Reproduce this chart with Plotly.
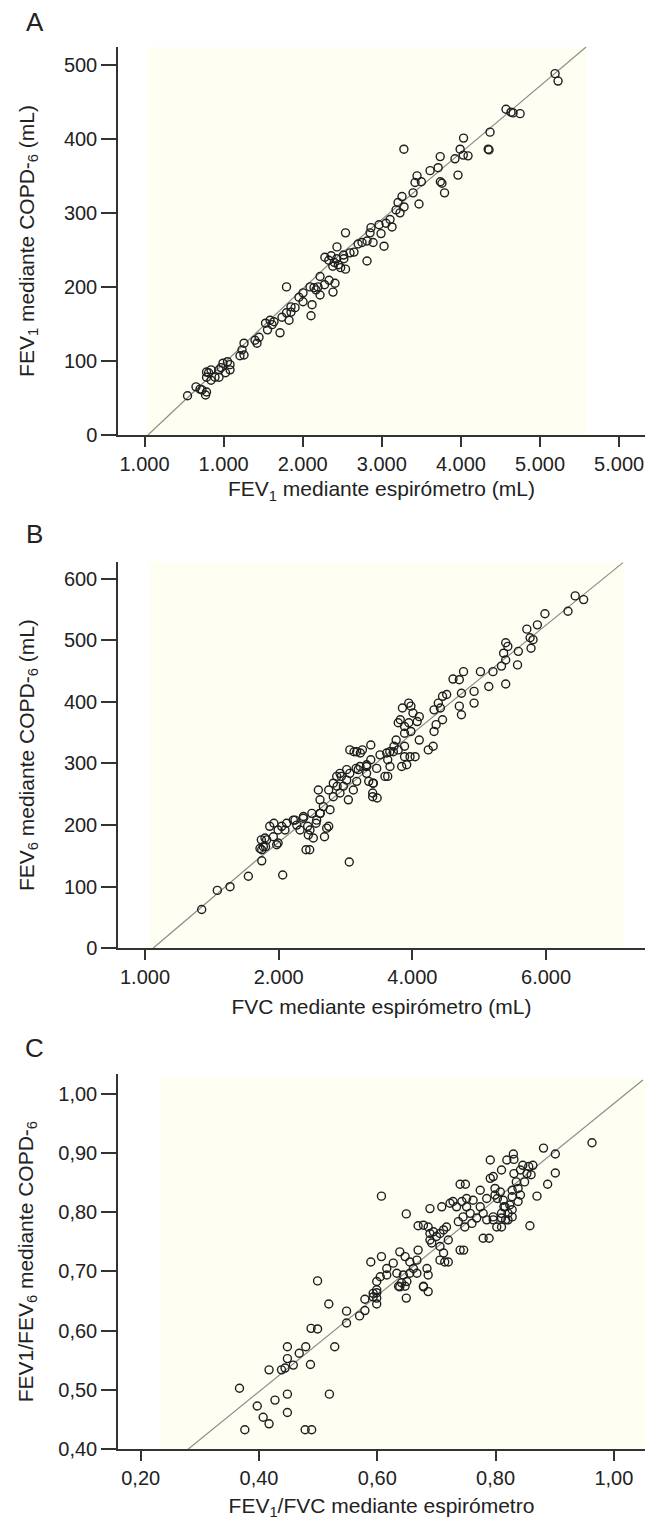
import plotly.graph_objects as go

# ---- panel A: FEV1 (COPD-6 vs espirometro)
a_x = [5190, 5228, 4570, 4633, 4659, 4748, 4368, 4355, 4345, 4033, 3990, 4090, 3925, 3963,
       3738, 3712, 3760, 3740, 3793, 3610, 3445, 3500, 3279, 3420, 3395, 3470, 3255, 3205,
       3281, 3180, 3230, 3104, 3053, 3129, 2965, 2863, 2851, 2541, 2990, 2750, 2700, 2890,
       2813, 3028, 2813, 2433, 2515, 2598, 2648, 2280, 2330, 2400, 2450, 2380, 2480, 2520,
       2360, 2430, 2541, 2219, 2333, 2276, 2383, 2408, 2092, 2143, 2193, 2168, 2219, 2004,
       1795, 1953, 2004, 2118, 2105, 1852, 1903, 1795, 1852, 1738, 1827, 1713, 1587, 1530,
       1612, 1555, 1637, 1448, 1397, 1422, 1258, 1233, 1258, 1207, 1049, 992, 1081, 942,
       1024, 1081, 841, 891, 784, 942, 841, 967, 784, 810, 727, 784, 702, 772, 544, 651, 4030]
a_y = [488, 478, 440, 436, 435, 434, 409, 385, 386, 401, 386, 377, 373, 351,
       376, 361, 340, 342, 327, 357, 350, 342, 386, 341, 327, 312, 322, 314,
       308, 304, 300, 291, 286, 281, 284, 280, 273, 273, 272, 260, 258, 260,
       262, 255, 235, 254, 243, 246, 247, 240, 236, 233, 230, 228, 226, 238,
       242, 238, 224, 214, 209, 203, 193, 205, 200, 199, 200, 196, 189, 192,
       200, 186, 180, 176, 161, 173, 172, 165, 166, 159, 155, 138, 155, 151,
       149, 142, 153, 132, 128, 124, 124, 115, 108, 107, 99, 97, 95, 88,
       84, 88, 88, 78, 78, 78, 74, 91, 85, 84, 61, 58, 62, 54, 53, 65, 378]
a_fit_x = [44, 2345, 5582]
a_fit_y = [0, 232, 524]
a_ticks = [0, 1000, 2000, 3000, 4000, 5000, 6000]
a_ticktext = ["1.000", "1.000", "2.000", "3.000", "4.000", "5.000", "5.000"]
a_yticks = [0, 100, 200, 300, 400, 500]

# ---- panel B: FEV6 vs FVC
b_x = [848, 1082, 1272, 1546, 1746, 2060, 3056, 2409, 1746, 1720, 1770, 1820, 1795, 1970,
       1920, 2045, 2094, 2219, 2319, 2270, 2368, 2468, 2518, 2443, 2718, 2568, 2618, 2668,
       2768, 2593, 2618, 2817, 2917, 2817, 2967, 3017, 3117, 3167, 3042, 2868, 2917, 3017,
       3216, 3316, 3416, 3406, 3406, 3590, 3466, 3516, 3616, 3715, 3665, 3840, 3965, 4238,
       3167, 6562, 6436, 6328, 5983, 5712, 5870, 5761, 5805, 5775, 5585, 5573, 5396, 5428,
       5365, 5396, 5333, 5206, 5018, 5396, 5143, 4765, 4702, 4608, 4734, 4923, 4923, 4702,
       4734, 4451, 4513, 4388, 4419, 4324, 4451, 4355, 4324, 4311, 3946, 3978, 3851, 4009,
       4103, 4072, 3946, 3883, 3978, 4103, 3883, 3819, 3788, 3883, 3757, 3725, 3662, 3788,
       3631, 3883, 3915, 4041, 3631, 3378, 3252, 3064, 3315, 3158, 3410, 3473, 3347, 1866,
       1928, 1991, 2118, 2244, 2370, 2496, 2433, 2559, 2622, 2748, 2685, 1740, 1803, 1991,
       2464, 2748, 2874, 2937, 3064, 3189, 3315, 3378, 3221, 3127]
b_y = [63, 94, 100, 117, 142, 119, 140, 160, 160, 162, 165, 176, 179, 168,
       181, 198, 192, 208, 192, 200, 211, 192, 179, 184, 195, 208, 219, 230,
       225, 257, 241, 246, 252, 268, 263, 273, 257, 271, 241, 279, 284, 290,
       295, 298, 268, 252, 246, 279, 292, 314, 317, 319, 295, 295, 311, 322,
       319, 566, 572, 547, 543, 518, 525, 504, 501, 487, 482, 460, 496, 490,
       479, 468, 458, 449, 449, 429, 425, 449, 436, 437, 414, 417, 398, 393,
       379, 409, 412, 398, 390, 387, 371, 363, 352, 328, 398, 393, 390, 382,
       376, 368, 366, 360, 352, 338, 328, 371, 366, 349, 338, 328, 319, 322,
       306, 311, 298, 311, 279, 330, 322, 322, 295, 292, 268, 244, 271, 198,
       203, 192, 203, 208, 214, 219, 198, 203, 219, 198, 181, 176, 165, 171,
       160, 257, 263, 279, 284, 290, 284, 306, 317, 319]
b_fit_x = [120, 1646, 7150]
b_fit_y = [0, 141, 626]
b_ticks = [0, 2000, 4000, 6000]
b_ticktext = ["1.000", "2.000", "4.000", "6.000"]
b_yticks = [0, 100, 200, 300, 400, 500, 600]

# ---- panel C: FEV1/FEV6 vs FEV1/FVC
c_x = [0.376, 0.367, 0.397, 0.407, 0.417, 0.427, 0.448, 0.448, 0.478, 0.489, 0.417, 0.438,
       0.444, 0.458, 0.448, 0.468, 0.479, 0.448, 0.487, 0.528, 0.488, 0.499, 0.519, 0.518,
       0.548, 0.548, 0.570, 0.579, 0.579, 0.599, 0.599, 0.599, 0.593, 0.649, 0.636, 0.647,
       0.641, 0.678, 0.499, 0.599, 0.593, 0.599, 0.607, 0.649, 0.589, 0.607, 0.616, 0.627,
       0.638, 0.647, 0.655, 0.667, 0.661, 0.633, 0.644, 0.655, 0.667, 0.605, 0.616, 0.650,
       0.638, 0.684, 0.686, 0.669, 0.678, 0.686, 0.669, 0.678, 0.686, 0.689, 0.695, 0.689,
       0.692, 0.706, 0.712, 0.717, 0.706, 0.712, 0.714, 0.720, 0.706, 0.740, 0.700, 0.720,
       0.689, 0.709, 0.723, 0.728, 0.734, 0.743, 0.751, 0.757, 0.745, 0.737, 0.748, 0.740,
       0.751, 0.762, 0.774, 0.779, 0.785, 0.768, 0.760, 0.779, 0.796, 0.802, 0.810, 0.791,
       0.791, 0.799, 0.799, 0.808, 0.813, 0.816, 0.819, 0.810, 0.821, 0.821, 0.963, 0.901,
       0.881, 0.863, 0.901, 0.888, 0.870, 0.858, 0.830, 0.831, 0.846, 0.856, 0.853, 0.842,
       0.831, 0.860, 0.849, 0.835, 0.838, 0.828, 0.842, 0.828, 0.838, 0.824, 0.814, 0.796,
       0.803, 0.810, 0.796, 0.810, 0.789, 0.828, 0.817, 0.828, 0.749, 0.746, 0.785, 0.774,
       0.247]
c_y = [0.433, 0.503, 0.473, 0.454, 0.443, 0.483, 0.493, 0.462, 0.433, 0.433, 0.534, 0.534,
       0.537, 0.542, 0.553, 0.562, 0.573, 0.573, 0.543, 0.573, 0.604, 0.603, 0.493, 0.645,
       0.613, 0.633, 0.625, 0.634, 0.653, 0.664, 0.645, 0.655, 0.657, 0.655, 0.675, 0.675,
       0.681, 0.675, 0.684, 0.683, 0.663, 0.669, 0.827, 0.797, 0.716, 0.725, 0.705, 0.714,
       0.733, 0.725, 0.716, 0.719, 0.705, 0.697, 0.694, 0.697, 0.697, 0.691, 0.694, 0.683,
       0.674, 0.705, 0.694, 0.736, 0.674, 0.666, 0.777, 0.778, 0.775, 0.764, 0.767, 0.753,
       0.748, 0.764, 0.770, 0.775, 0.742, 0.731, 0.716, 0.716, 0.719, 0.736, 0.759, 0.753,
       0.806, 0.809, 0.815, 0.818, 0.809, 0.818, 0.809, 0.798, 0.792, 0.784, 0.775, 0.847,
       0.823, 0.820, 0.809, 0.798, 0.787, 0.790, 0.781, 0.756, 0.787, 0.775, 0.790, 0.888,
       0.857, 0.840, 0.829, 0.834, 0.820, 0.809, 0.888, 0.871, 0.798, 0.787, 0.917, 0.898,
       0.908, 0.879, 0.866, 0.847, 0.827, 0.777, 0.898, 0.889, 0.879, 0.877, 0.865, 0.871,
       0.865, 0.863, 0.851, 0.851, 0.840, 0.837, 0.829, 0.826, 0.818, 0.812, 0.809, 0.860,
       0.823, 0.798, 0.792, 0.775, 0.756, 0.792, 0.787, 0.804, 0.847, 0.736, 0.823, 0.837,
       0.392]
c_fit_x = [0.275, 1.049]
c_fit_y = [0.396, 1.023]
c_ticks = [0.2, 0.4, 0.6, 0.8, 1.0]
c_ticktext = ["0,20", "0,40", "0,60", "0,80", "1,00"]
c_yticks = [0.4, 0.5, 0.6, 0.7, 0.8, 0.9, 1.0]
c_yticktext = ["0,40", "0,50", "0,60", "0,70", "0,80", "0,90", "1,00"]

FONT = "Liberation Sans, Arial, sans-serif"
INK = "#222222"
CREAM = "#fefef2"

# the page body adds an 8px margin, so the figure is drawn 8px smaller
OFF = 8
W, H = 654 - OFF, 1520 - OFF

def fx(px):
    return (px - OFF) / W

def fy(py):
    return 1 - (py - OFF) / H

fig = go.Figure()

panels = [
    ("", a_x, a_y, a_fit_x, a_fit_y),
    ("2", b_x, b_y, b_fit_x, b_fit_y),
    ("3", c_x, c_y, c_fit_x, c_fit_y),
]
for sfx, xs, ys, lx, ly in panels:
    fig.add_trace(go.Scatter(x=lx, y=ly, mode="lines", xaxis="x" + sfx, yaxis="y" + sfx,
                             line=dict(color="#8c8c8c", width=1.2), showlegend=False,
                             hoverinfo="skip"))
    fig.add_trace(go.Scatter(x=xs, y=ys, mode="markers", xaxis="x" + sfx, yaxis="y" + sfx,
                             marker=dict(symbol="circle-open", size=8, color="#1e1e1e",
                                         line=dict(width=1.4)),
                             cliponaxis=(sfx != "3"), showlegend=False))

xdom = [fx(118), fx(645)]
ydoms = [[fy(435), fy(47)],
         [fy(948.3), fy(562)],
         [fy(1449.3), fy(1074)]]

def axis(anchor, dom, rng, tv, tt, title, standoff, ticklen):
    return dict(domain=dom, anchor=anchor, range=rng, tickvals=tv, ticktext=tt,
                showline=True, linecolor="#333", linewidth=1.5, ticks="outside",
                ticklen=ticklen, tickwidth=1.5, tickcolor="#333", showgrid=False,
                zeroline=False, automargin=False, tickfont=dict(size=20, color=INK),
                title=dict(text=title, font=dict(size=21, color=INK), standoff=standoff))

fig.update_layout(
    width=W, height=H,
    margin=dict(l=0, r=0, t=0, b=0),
    paper_bgcolor="white", plot_bgcolor="white",
    font=dict(family=FONT, color=INK),
    xaxis=axis("y", xdom, [-335, 6327], a_ticks, a_ticktext,
               "FEV<sub>1</sub> mediante espirómetro (mL)", 8, 10),
    yaxis=axis("x", ydoms[0], [0, 524], a_yticks, [str(v) for v in a_yticks],
               "FEV<sub>1</sub> mediante COPD-<sub>6</sub> (mL)", 24, 15),
    xaxis2=axis("y2", xdom, [-404, 7480], b_ticks, b_ticktext,
                "FVC mediante espirómetro (mL)", 12, 10),
    yaxis2=axis("x2", ydoms[1], [0, 627], b_yticks, [str(v) for v in b_yticks],
                "FEV<sub>6</sub> mediante COPD-<sub>6</sub> (mL)", 24, 15),
    xaxis3=axis("y3", xdom, [0.1616, 1.0526], c_ticks, c_ticktext,
                "FEV<sub>1</sub>/FVC mediante espirómetro", 10, 10),
    yaxis3=axis("x3", ydoms[2], [0.40, 1.033], c_yticks, c_yticktext,
                "FEV1/FEV<sub>6</sub> mediante COPD-<sub>6</sub>", 19, 15),
)

# cream plotting areas
for sfx, x0, x1, y1 in [("", 0.055, 0.888, 1.0), ("2", 0.061, 0.960, 1.0), ("3", 0.080, 1.0, 0.99)]:
    fig.add_shape(type="rect", xref="x" + sfx + " domain", yref="y" + sfx + " domain",
                  x0=x0, x1=x1, y0=0, y1=y1, fillcolor=CREAM, line=dict(width=0),
                  layer="below")

# panel letters
for letter, ypx in [("A", 22), ("B", 534), ("C", 1048)]:
    fig.add_annotation(text=letter, xref="paper", yref="paper", x=fx(35), y=fy(ypx),
                       showarrow=False, xanchor="center", yanchor="middle",
                       font=dict(size=26, color=INK, family=FONT))

fig.write_html("out.html")
